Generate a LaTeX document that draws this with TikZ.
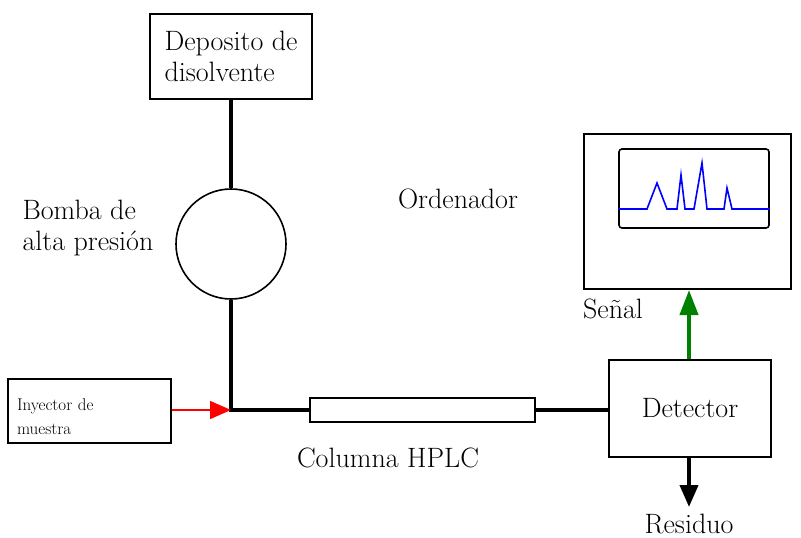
\documentclass[tikz,border=0pt]{standalone}
\usetikzlibrary{arrows.meta}

\begin{document}
\begin{tikzpicture}[x=1pt,y=-1pt,
  every node/.style={font=\fontsize{28}{31}\selectfont},
  box/.style={draw,line width=2pt,fill=white,inner sep=0pt},
  pipe/.style={line width=4pt},
  tip/.style={-{Triangle[length=#1,width=18pt]}}]
  \useasboundingbox (0,0) rectangle (801,538);
  % equipos
  \node[box,minimum width=162,minimum height=85,align=left] (depo) at (231,56.5) {Deposito de\\disolvente};
  \node[draw,circle,line width=1.6pt,minimum size=110,inner sep=0pt] (bomba) at (231,244) {};
  \node[box,minimum width=163,minimum height=64,text width=145,align=left,font=\fontsize{17}{24}\selectfont] (iny) at (89.5,411) {\rule{0pt}{24pt}Inyector de\\muestra};
  \node[box,minimum width=225,minimum height=24] (col) at (422.5,410) {};
  \node[box,minimum width=162,minimum height=97] (det) at (690,408.5) {Detector};
  \node[box,minimum width=207,minimum height=155] (pc) at (687.5,211.5) {};
  \node[draw,line width=1.6pt,rounded corners=3pt,minimum width=150,minimum height=79,inner sep=0pt] (pantalla) at (694,188.5) {};
  \coordinate (union) at (231,410);
  \coordinate (res) at (689,507);
  % conexiones
  \draw[pipe] (depo.south) -- (bomba.north);
  \draw[pipe] (bomba.south) -- (union) -- (col.west);
  \draw[pipe] (col.east) -- (col.east -| det.west);
  \draw[red,line width=1.6pt,tip=21pt] (iny.east |- union) -- (union);
  \draw[green!50!black,pipe,tip=25pt] (det.north -| res) -- (pc.south -| res);
  \draw[pipe,tip=22pt] (det.south -| res) -- (res);
  % señal
  \draw[blue,line width=1.6pt] (pantalla.west |- 0,209) -- (647,209) -- (657,183) -- (667,209) -- (677,209) -- (681,175) -- (685,209) -- (694,209) -- (702,163) -- (707,209) -- (724,209) -- (727,188) -- (732,209) -- (pantalla.east |- 0,209);
  % rotulos
  \node[align=left,anchor=west] (lbomba) at (19,228) {Bomba de\\alta presión};
  \node (lpc) at (458,199) {Ordenador};
  \node (lsenal) at (613,309) {Señal};
  \node (lcol) at (388,458) {Columna HPLC};
  \node (lres) at (689,524) {Residuo};
\end{tikzpicture}
\end{document}
